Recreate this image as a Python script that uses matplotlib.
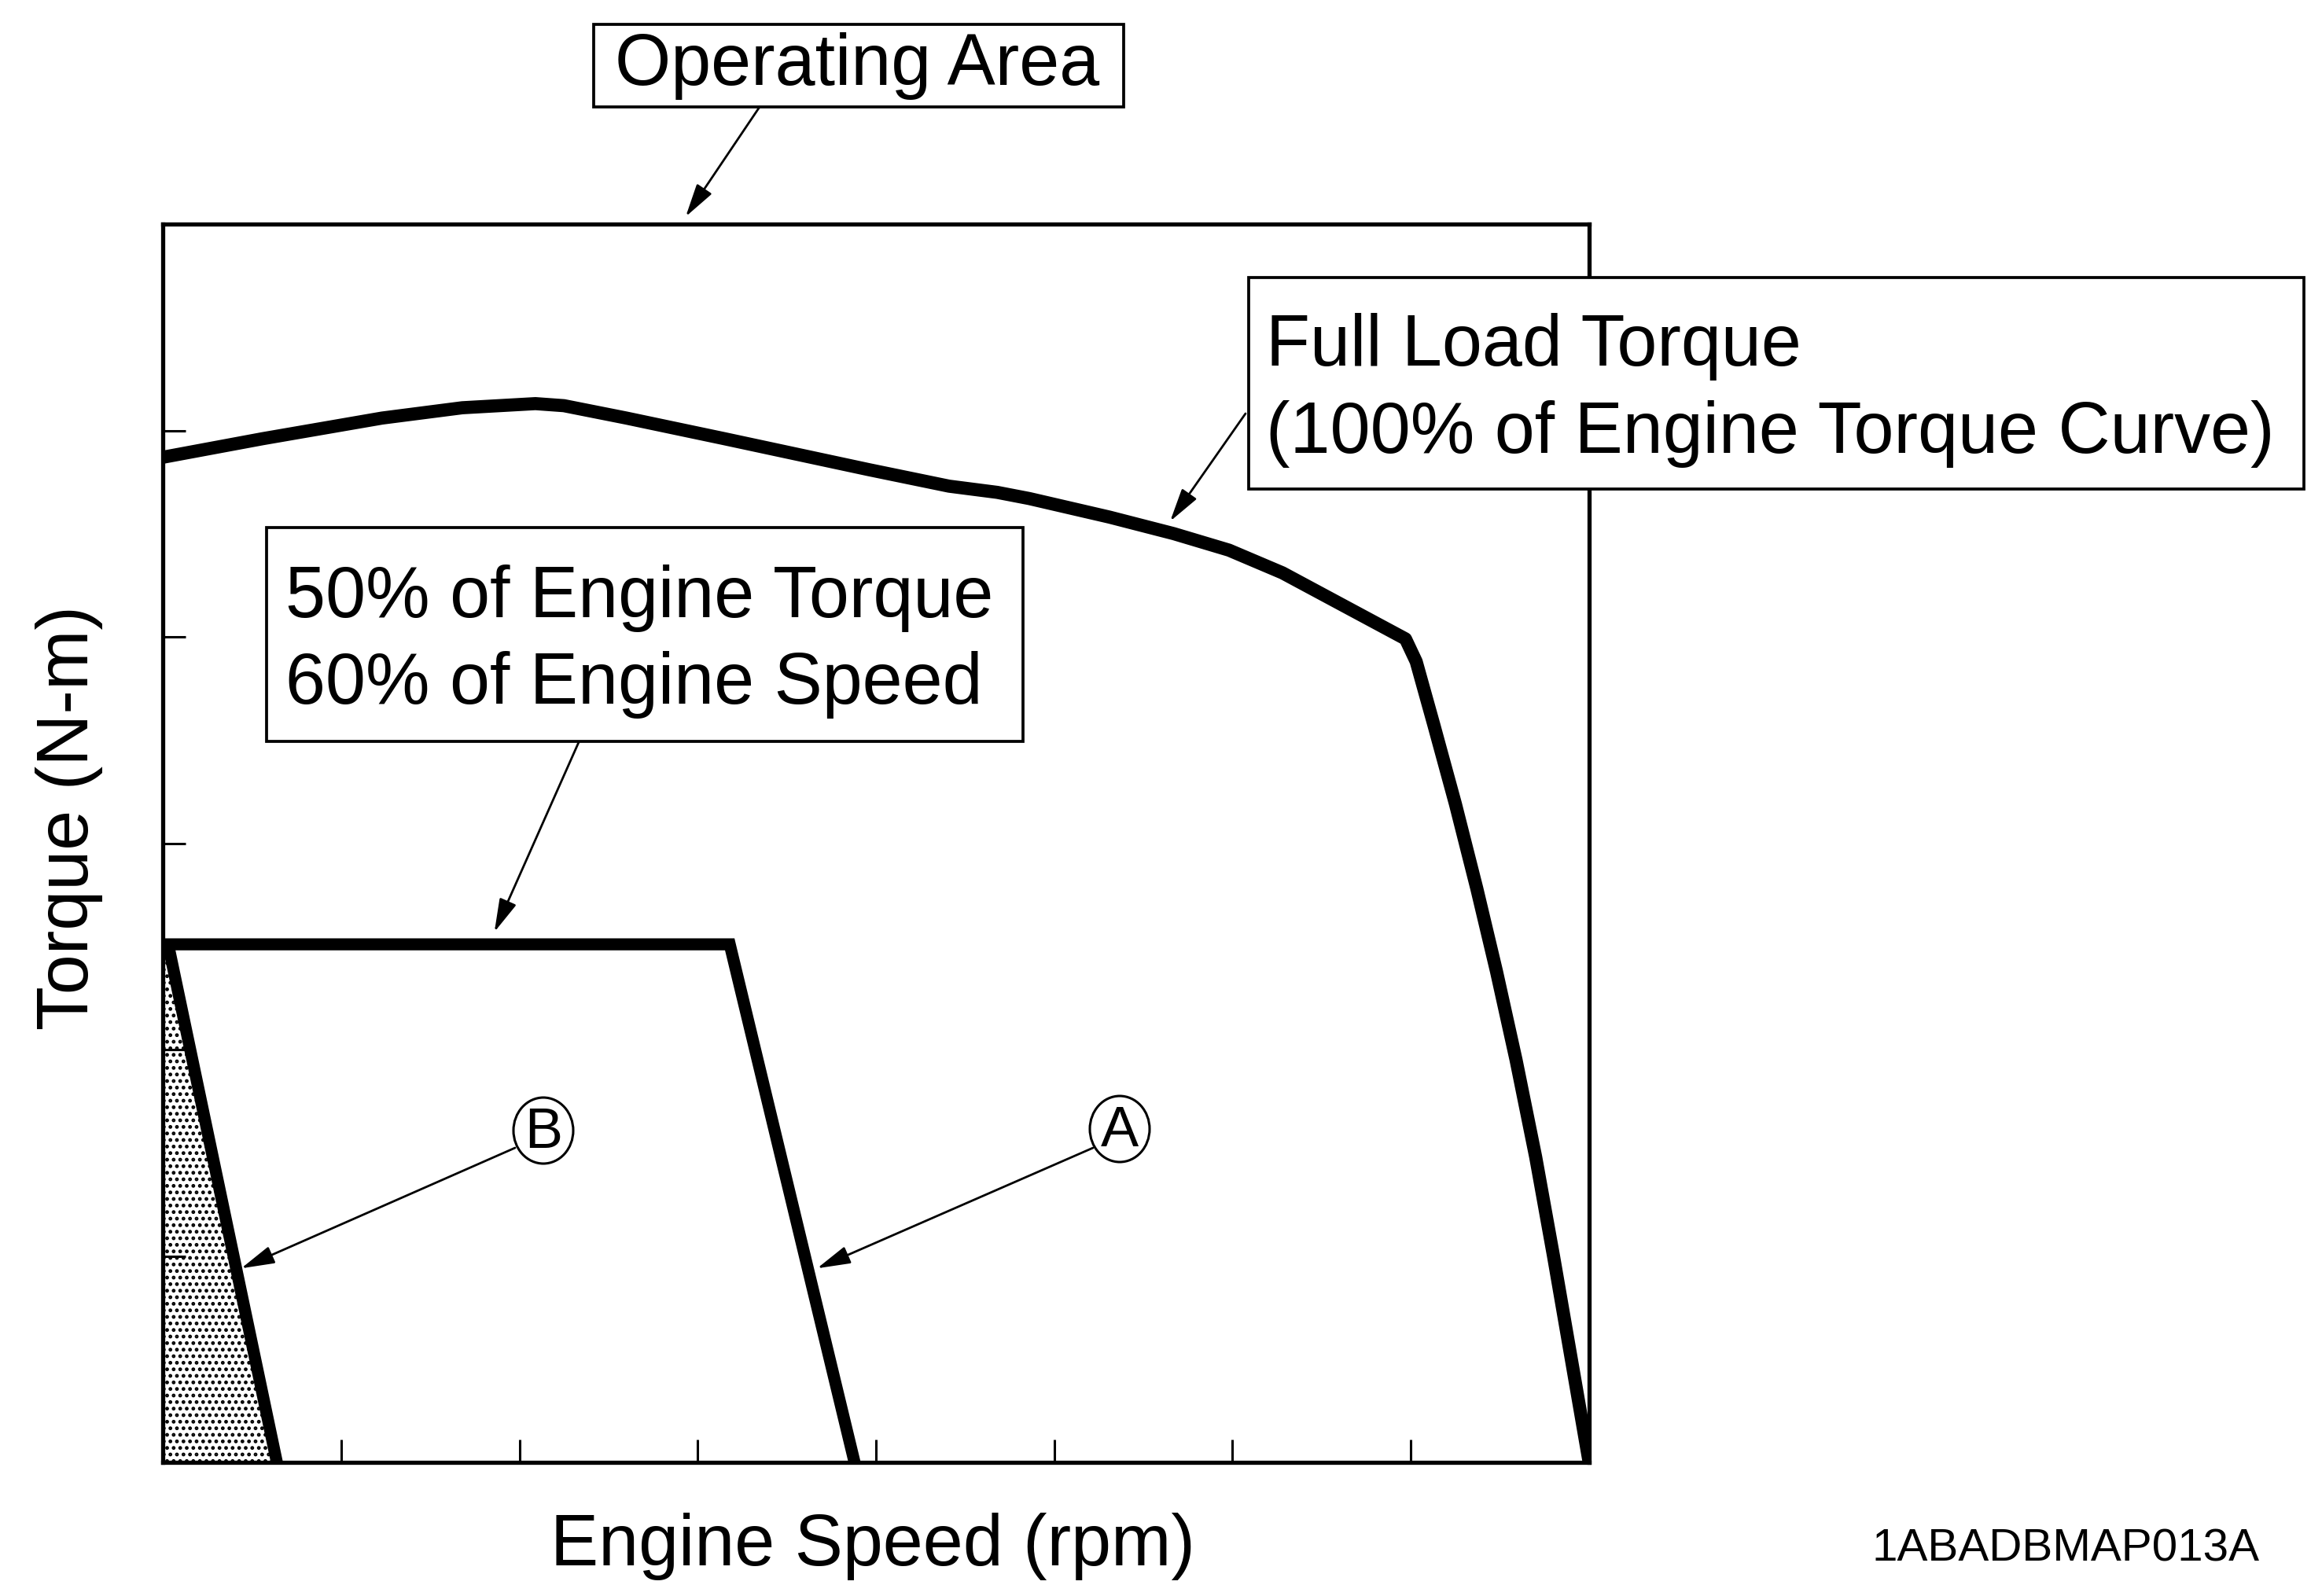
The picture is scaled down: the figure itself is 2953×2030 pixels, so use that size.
import matplotlib
matplotlib.use("Agg")
import matplotlib.pyplot as plt
from matplotlib.patches import Rectangle, Ellipse, Polygon

plt.rcParams['font.family'] = ['Liberation Sans', 'DejaVu Sans']
plt.rcParams['hatch.linewidth'] = 2.2

# ---------------- data (axis units: speed 0..8 tick steps, torque 0..6 tick steps)
speed_ticks = [1, 2, 3, 4, 5, 6, 7]
torque_ticks = [1, 2, 3, 4, 5]

full_load_speed = [0.00, 0.56, 1.23, 1.68, 2.09, 2.25, 2.60, 3.15, 3.96, 4.41,
                   4.68, 4.86, 5.31, 5.67, 5.98, 6.28, 6.97, 7.03, 7.13, 7.25,
                   7.37, 7.48, 7.59, 7.70, 7.80, 7.90, 8.00]
full_load_torque = [4.87, 4.96, 5.06, 5.11, 5.13, 5.12, 5.06, 4.96, 4.81, 4.73,
                    4.70, 4.67, 4.58, 4.50, 4.42, 4.31, 3.99, 3.88, 3.57, 3.19,
                    2.78, 2.38, 1.95, 1.48, 1.00, 0.50, 0.00]

# 50% torque / 60% speed region
region_a_speed = [0.0, 3.18, 3.88]
region_a_torque = [2.51, 2.51, 0.0]
region_b_speed = [0.03, 0.64]
region_b_torque = [2.51, 0.0]

# shaded area left of line B
shade_speed = [0.0, 0.0, 0.03, 0.64]
shade_torque = [0.0, 2.51, 2.51, 0.0]

W, H = 2953, 2031
fig = plt.figure(figsize=(W / 100, H / 100), dpi=100)
fig.patch.set_facecolor('white')

ax = fig.add_axes([207 / W, 1 - 1861 / H, (2021 - 207) / W, (1861 - 286) / H])
ax.set_xlim(0, 8)
ax.set_ylim(0, 6)
ax.set_xticks(speed_ticks)
ax.set_yticks(torque_ticks)
ax.tick_params(direction='in', length=21, width=2.2, labelbottom=False,
               labelleft=False, top=False, right=False, color='black')
for s in ax.spines.values():
    s.set_linewidth(3.8)
    s.set_color('black')

ax.add_patch(Polygon(list(zip(shade_speed, shade_torque)), closed=True,
                     facecolor='white', edgecolor='black', hatch='..', lw=0))
ax.plot(full_load_speed, full_load_torque, color='black', lw=12,
        solid_joinstyle='round', solid_capstyle='butt')
ax.plot(region_a_speed, region_a_torque, color='black', lw=11,
        solid_joinstyle='miter', solid_capstyle='butt')
ax.plot(region_b_speed, region_b_torque, color='black', lw=11,
        solid_capstyle='butt')

# overlay in image pixel coordinates
ov = fig.add_axes([0, 0, 1, 1])
ov.set_xlim(0, W)
ov.set_ylim(H, 0)
ov.axis('off')
ov.patch.set_alpha(0)

box_lw = 2.7
fs = 66
ap = dict(arrowstyle='-|>,head_length=26,head_width=7', color='black', lw=2.0,
          shrinkA=0, shrinkB=0, mutation_scale=1)

# Operating Area
ov.add_patch(Rectangle((755, 32), 674, 105, fc='white', lw=box_lw, ec='black'))
ov.text(1090, 84, 'Operating Area', fontsize=fs, ha='center', va='center')
ov.annotate('', xy=(0.3666, 1.006), xycoords=ax.transAxes,
            xytext=(966, 137), textcoords=ov.transData, arrowprops=ap)

# Full load torque
ov.add_patch(Rectangle((1588, 354), 1342, 269, fc='white', lw=box_lw, ec='black'))
ov.text(1610, 465, 'Full Load Torque', fontsize=fs, ha='left', va='baseline')
ov.text(1610, 576, '(100% of Engine Torque Curve)', fontsize=fs, ha='left', va='baseline')
ov.annotate('', xy=(5.65, 4.56), xycoords=ax.transData,
            xytext=(1584, 527), textcoords=ov.transData, arrowprops=ap)

# 50% / 60% box
ov.add_patch(Rectangle((339, 672), 962, 272, fc='white', lw=box_lw, ec='black'))
ov.text(363, 785, '50% of Engine Torque', fontsize=fs, ha='left', va='baseline')
ov.text(363, 895, '60% of Engine Speed', fontsize=fs, ha='left', va='baseline')
ov.annotate('', xy=(1.86, 2.57), xycoords=ax.transData,
            xytext=(736, 945), textcoords=ov.transData, arrowprops=ap)

# circled letters
for lab, cx, cy, sx, sy, tx, ty in [('B', 691, 1439, 655, 1461, 0.44, 0.94),
                                    ('A', 1424, 1437, 1390, 1461, 3.67, 0.94)]:
    ov.add_patch(Ellipse((cx, cy), 76, 84, fill=False, lw=2.2, ec='black'))
    ov.text(cx, cy + 2, lab, fontsize=52, ha='center', va='center')
    ov.annotate('', xy=(tx, ty), xycoords=ax.transData,
                xytext=(sx, sy), textcoords=ov.transData, arrowprops=ap)

# axis labels
ov.text(1110, 1991, 'Engine Speed (rpm)', fontsize=fs, ha='center', va='baseline')
ov.text(88, 1040, 'Torque (N-m)', fontsize=fs, ha='center', va='center', rotation=90)
ov.text(2627, 1985, '1ABADBMAP013A', fontsize=42, ha='center', va='baseline')

fig.savefig('out.png', dpi=100, facecolor='white')
